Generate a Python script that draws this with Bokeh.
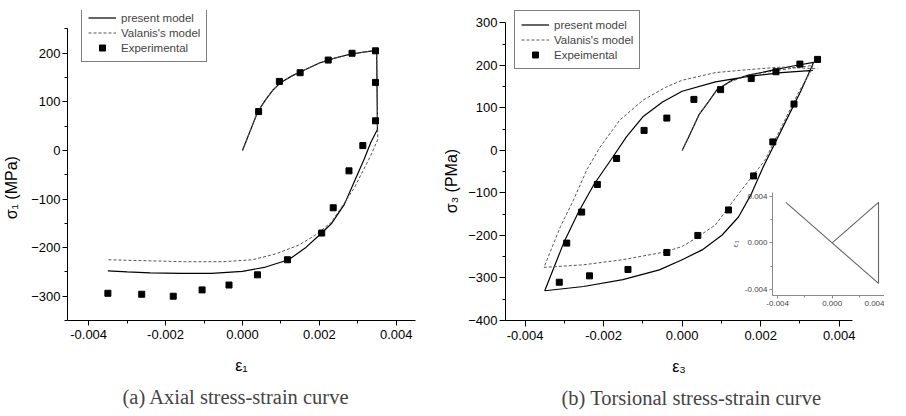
from bokeh.plotting import figure
from bokeh.models import (Range1d, FixedTicker, NumeralTickFormatter, Legend,
                          LegendItem, Title, GridBox)
from bokeh.embed import file_html
from bokeh.resources import INLINE

# ---------------- data: (a) axial ----------------
exp_axial_strain = [0.00042, 0.00096, 0.0015, 0.00223, 0.00285, 0.00346, 0.00346,
                    0.00346, 0.00313, 0.00277, 0.00236, 0.00206, 0.00117, 0.00039,
                    -0.00035, -0.00105, -0.0018, -0.00262, -0.0035]
exp_axial_stress = [80, 142, 160, 186, 200, 205, 140, 61, 10, -42, -118, -170, -225,
                    -256, -277, -287, -300, -296, -294]

present_axial_strain = [0, 0.0002, 0.0004, 0.0006, 0.0008, 0.001, 0.0013, 0.0016, 0.002,
                        0.0024, 0.0028, 0.0032, 0.00349, 0.00351, 0.00334, 0.00317,
                        0.00291, 0.00265, 0.00231, 0.00206, 0.00163, 0.0012, 0.0006, 0.0,
                        -0.0008, -0.0016, -0.0024, -0.003, -0.0035]
present_axial_stress = [0, 40, 80, 104, 125, 140, 154, 165, 180, 190, 198, 203, 206, 43,
                        17, -17, -64, -111, -151, -170, -201, -225, -240, -249, -253,
                        -253, -252, -250, -248]

valanis_axial_strain = [0, 0.0002, 0.0004, 0.0006, 0.0008, 0.001, 0.0013, 0.0016, 0.002,
                        0.0024, 0.0028, 0.0032, 0.00349, 0.00352, 0.00334, 0.00312,
                        0.00291, 0.00265, 0.00231, 0.00188, 0.00146, 0.00086, 0.00026,
                        -0.0005, -0.0015, -0.0025, -0.0035]
valanis_axial_stress = [0, 40, 80, 104, 125, 140, 154, 165, 180, 190, 198, 203, 206, 23,
                        -10, -44, -77, -108, -148, -175, -195, -213, -225, -229, -229,
                        -227, -225]

# ---------------- data: (b) torsional ----------------
exp_tors_strain = [0.00345, 0.00285, 0.00231, 0.00182, 0.00118, 0.00040, -0.00039,
                   -0.00138, -0.00236, -0.00313, -0.00294, -0.00256, -0.00216, -0.00167,
                   -0.00097, -0.00039, 0.00030, 0.00098, 0.00176, 0.00239, 0.00300]
exp_tors_stress = [214, 109, 20, -60, -140, -200, -240, -280, -295, -310, -218, -145,
                   -80, -19, 47, 76, 120, 143, 169, 185, 203]

present_tors_strain = [0, 0.00017, 0.00043, 0.00067, 0.00089, 0.00127, 0.00169, 0.00228,
                       0.00286, 0.00335,
                       0.00303, 0.00261, 0.00228, 0.00207, 0.00177, 0.00144, 0.00102,
                       0.00051, 0.0, -0.00058, -0.00151, -0.00251, -0.0035,
                       -0.00302, -0.00264, -0.00224, -0.00176, -0.00142, -0.001, -0.0005,
                       0.0, 0.00085, 0.00169, 0.00253, 0.00333]
present_tors_stress = [0, 32, 84, 114, 143, 165, 177, 188, 199, 207,
                       141, 63, 1, -38, -101, -156, -199, -234, -257, -281, -304, -320,
                       -330,
                       -218, -145, -79, -15, 32, 79, 114, 139, 161, 174, 183, 188]

valanis_tors_strain = [0, 0.00043, 0.00089, 0.00127, 0.00169, 0.00228, 0.00286, 0.00333,
                       0.00329, 0.00295, 0.00253, 0.00211, 0.00148, 0.00085, 0.00034, 0.0,
                       -0.00045, -0.00151, -0.00251, -0.00352,
                       -0.0031, -0.00277, -0.00243, -0.00209, -0.00159, -0.001, -0.00041,
                       0.0, 0.00085, 0.00169, 0.00253, 0.00345]
valanis_tors_stress = [0, 84, 143, 163, 176, 186, 194, 200,
                       188, 134, 55, -23, -97, -175, -207, -226, -239, -257, -269, -275,
                       -179, -117, -46, 8, 71, 118, 149, 165, 183, 190, 196, 192]

# ---------------- data: inset strain path ----------------
path_eps1 = [0, 0.0034, 0.0034, -0.0034]
path_eps3 = [0, 0.0035, -0.0035, 0.0035]

strain_ticks = [-0.004, -0.002, 0.0, 0.002, 0.004]
strain_minor = [-0.005, -0.003, -0.001, 0.001, 0.003]
axial_ticks = [-300, -200, -100, 0, 100, 200]
axial_minor = [-350, -250, -150, -50, 50, 150, 250]
tors_ticks = [-400, -300, -200, -100, 0, 100, 200, 300]
tors_minor = [-350, -250, -150, -50, 50, 150, 250]
inset_ticks = [-0.004, 0.0, 0.004]
inset_minor = [-0.002, 0.002]

SANS = "Liberation Sans"
SERIF = "Liberation Serif"
SOLID = "#000000"
DASH = "#555555"
NBSP = "\u00a0"


def style(p, xt, xm, yt, ym, xlab, ylab, fs="13px", tick=5, lab_fs="16px"):
    p.outline_line_color = None
    p.xgrid.visible = False
    p.ygrid.visible = False
    p.xaxis.ticker = FixedTicker(ticks=xt, minor_ticks=xm)
    p.yaxis.ticker = FixedTicker(ticks=yt, minor_ticks=ym)
    p.xaxis.formatter = NumeralTickFormatter(format="0.000")
    for ax in (p.xaxis, p.yaxis):
        ax.axis_line_color = "black"
        ax.axis_line_width = 1
        ax.major_tick_line_color = "black"
        ax.minor_tick_line_color = "black"
        ax.major_tick_in = 0
        ax.major_tick_out = tick
        ax.minor_tick_in = 0
        ax.minor_tick_out = 3
        ax.major_label_text_font = SANS
        ax.major_label_text_font_size = fs
        ax.major_label_text_color = "black"
        ax.axis_label_text_font = SANS
        ax.axis_label_text_font_size = lab_fs
        ax.axis_label_text_font_style = "normal"
        ax.axis_label_text_color = "black"
    p.xaxis.axis_label = xlab
    p.yaxis.axis_label = ylab
    p.xaxis.major_label_standoff = 4
    p.yaxis.major_label_standoff = 2
    p.xaxis.axis_label_standoff = 15
    p.yaxis.axis_label_standoff = 8


def add_legend(p, items, loc):
    lg = Legend(items=items, location=loc, label_text_font=SANS,
                label_text_font_size="11.5px", label_height=15, glyph_height=15,
                glyph_width=28, label_standoff=5, spacing=0, padding=6, margin=0,
                border_line_color="black", border_line_width=1,
                background_fill_color="white", background_fill_alpha=1)
    p.add_layout(lg)


# ---------------- (a) ----------------
p1 = figure(width=440, height=416, x_range=Range1d(-0.00455, 0.0045),
            y_range=Range1d(-350, 288), output_backend="svg", toolbar_location=None,
            min_border_left=63, min_border_right=25, min_border_top=5,
            min_border_bottom=94)
style(p1, strain_ticks, strain_minor, axial_ticks, axial_minor, "ε₁",
      "σ₁ (MPa)" + NBSP * 10)
p1.yaxis.bounds = (-350, 250)
r1 = p1.line(present_axial_strain, present_axial_stress, line_color=SOLID, line_width=1.2)
r2 = p1.line(valanis_axial_strain, valanis_axial_stress, line_color=DASH, line_width=1,
             line_dash="3 2")
r3 = p1.scatter(exp_axial_strain, exp_axial_stress, marker="square", size=6,
                fill_color="black", line_color="black")
add_legend(p1, [LegendItem(label="present model", renderers=[r1]),
                LegendItem(label="Valanis's model", renderers=[r2]),
                LegendItem(label="Experimental", renderers=[r3])], (14, 258))
p1.add_layout(Title(text="(a) Axial stress-strain curve", align="left",
                    text_font=SERIF, text_font_size="20.5px", text_font_style="normal",
                    standoff=15, offset=55), "below")

# ---------------- (b) ----------------
p2 = figure(width=466, height=416, x_range=Range1d(-0.0045, 0.00434),
            y_range=Range1d(-400, 329), output_backend="svg", toolbar_location=None,
            min_border_left=62, min_border_right=54, min_border_top=10,
            min_border_bottom=95)
style(p2, strain_ticks, strain_minor, tors_ticks, tors_minor, "ε₃",
      "σ₃ (PMa)" + NBSP * 7, tick=6)
p2.yaxis.bounds = (-400, 300)
p2.yaxis.axis_label_standoff = 5
q1 = p2.line(present_tors_strain, present_tors_stress, line_color=SOLID, line_width=1.2)
q2 = p2.line(valanis_tors_strain, valanis_tors_stress, line_color=DASH, line_width=1,
             line_dash="3 2")
q3 = p2.scatter(exp_tors_strain, exp_tors_stress, marker="square", size=6,
                fill_color="black", line_color="black")
add_legend(p2, [LegendItem(label="present model", renderers=[q1]),
                LegendItem(label="Valanis's model", renderers=[q2]),
                LegendItem(label="Expeimental", renderers=[q3])], (9, 251))
p2.add_layout(Title(text="(b) Torsional stress-strain curve", align="left",
                    text_font=SERIF, text_font_size="20.5px", text_font_style="normal",
                    standoff=15, offset=56), "below")

# ---------------- inset ----------------
p3 = figure(frame_width=118, frame_height=103, x_range=Range1d(-0.00438, 0.00428),
            y_range=Range1d(-0.00454, 0.00435), output_backend="svg",
            toolbar_location=None, min_border_left=40, min_border_right=14,
            min_border_top=4, min_border_bottom=18,
            background_fill_alpha=0, border_fill_alpha=0,
            margin=(182, 0, 0, 267), align="start")
style(p3, inset_ticks, inset_minor, inset_ticks, inset_minor, None, "ε₃", fs="8px",
      tick=3, lab_fs="8px")
p3.yaxis.formatter = NumeralTickFormatter(format="0.000")
for ax in (p3.xaxis, p3.yaxis):
    ax.axis_line_color = "#888888"
    ax.major_tick_line_color = "#888888"
    ax.minor_tick_line_color = "#888888"
    ax.minor_tick_out = 2
    ax.major_label_text_color = "#444444"
    ax.axis_label_text_color = "#666666"
p3.yaxis.axis_label_standoff = 2
p3.xaxis.major_label_standoff = 2
p3.xaxis.axis_label_standoff = 0
p3.line(path_eps1, path_eps3, line_color="#666666", line_width=1.1)

layout = GridBox(children=[(p1, 0, 0), (p2, 0, 1), (p3, 0, 1)])
open("out.html", "w").write(file_html(layout, INLINE))
